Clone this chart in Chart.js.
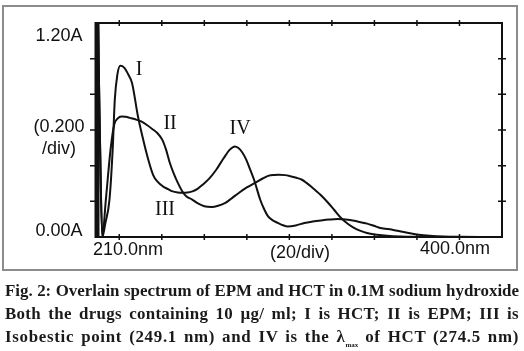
<!DOCTYPE html>
<html>
<head>
<meta charset="utf-8">
<script src="https://cdn.jsdelivr.net/npm/chart.js@4/dist/chart.umd.min.js"></script>
<style>
  html,body{margin:0;padding:0;background:#fff;}
  #wrap{position:relative;width:524px;height:351px;overflow:hidden;}
  #box{position:absolute;left:0;top:0;width:524px;height:351px;}
  #cap{position:absolute;left:5px;top:279px;width:514px;font-family:"Liberation Serif",serif;font-weight:bold;font-size:16px;color:#1a1a1a;line-height:23px;}
  #cap div{text-align:justify;text-align-last:justify;white-space:nowrap;}
  #cap .l2{letter-spacing:0.3px;}
  #cap .l3{letter-spacing:0.7px;}
  #cap sub{font-size:7px;vertical-align:-5px;letter-spacing:0;}
</style>
</head>
<body>
<div id="wrap">
  <div id="box"><canvas id="c"></canvas></div>
  <div id="cap">
    <div id="cap1">Fig. 2: Overlain spectrum of EPM and HCT in 0.1M sodium hydroxide</div>
    <div class="l2">Both the drugs containing 10 µg/ ml; I is HCT; II is EPM; III is</div>
    <div class="l3">Isobestic point (249.1 nm) and IV is the λ<sub>max</sub> of HCT (274.5 nm)</div>
  </div>
</div>
<script>
// ---- data ----
const wavelengthsHCT = [210, 211, 212, 213.5, 215.4, 216.9, 217.9, 219.1, 220.5, 222.3, 224.3, 226, 228.8, 230.9, 233, 235.9, 238, 240.5, 243, 245.1, 247.5, 249.7, 252, 254.4, 256.8, 259.2, 262.5, 265.6, 269, 272, 274.4, 275.9, 277.8, 279.7, 281.5, 283.4, 286.3, 288, 290, 292, 294.6, 297, 299.2, 303, 307.1, 311, 314.9, 318.8, 322.7, 326.6, 330.5, 333.5, 336.6, 339.7, 342.8, 348.4, 352, 356.1, 360.8, 366, 372, 380, 390, 400];
const absorbanceHCT  = [1.2, 0.5, 0.0, 0.08, 0.21, 0.49, 0.77, 0.91, 0.96, 0.95, 0.91, 0.864, 0.676, 0.564, 0.462, 0.349, 0.31, 0.284, 0.268, 0.256, 0.25, 0.248, 0.249, 0.256, 0.27, 0.293, 0.33, 0.377, 0.44, 0.49, 0.508, 0.5, 0.475, 0.434, 0.38, 0.321, 0.209, 0.16, 0.116, 0.095, 0.079, 0.066, 0.059, 0.065, 0.079, 0.087, 0.093, 0.098, 0.101, 0.098, 0.091, 0.083, 0.075, 0.063, 0.05, 0.041, 0.032, 0.022, 0.013, 0.007, 0.003, 0.001, 0, 0];
const wavelengthsEPM = [210, 211, 212, 213.7, 215.9, 217.6, 219.3, 221, 223, 225, 227.5, 230.3, 233, 235.5, 237.9, 240.2, 242, 243.8, 245.5, 247.5, 249.7, 251.5, 254.3, 257, 260, 263.5, 266.5, 269.9, 273, 276.2, 280, 284.2, 287.5, 290.4, 292.8, 295.1, 298, 300.7, 303.3, 305.9, 308.2, 310.5, 314.5, 318.2, 321.2, 324.2, 327.3, 330.4, 333.5, 336.5, 341.2, 346, 352, 360, 380, 400];
const absorbanceEPM  = [1.2, 0.5, 0.0, 0.21, 0.49, 0.63, 0.665, 0.676, 0.674, 0.668, 0.66, 0.648, 0.628, 0.606, 0.583, 0.546, 0.49, 0.415, 0.36, 0.305, 0.255, 0.228, 0.21, 0.188, 0.172, 0.168, 0.175, 0.191, 0.218, 0.247, 0.278, 0.306, 0.328, 0.344, 0.348, 0.349, 0.347, 0.34, 0.332, 0.321, 0.302, 0.28, 0.238, 0.192, 0.15, 0.108, 0.076, 0.051, 0.034, 0.022, 0.013, 0.007, 0.003, 0.001, 0, 0];
const xTicks = [220, 240, 260, 280, 300, 320, 340, 360, 380];
const yTicks = [0.2, 0.4, 0.6, 0.8, 1.0];
const xMin = 210, xMax = 400, yMin = 0, yMax = 1.2;
const yAxisTexts = ["1.20A", "(0.200", "/div)", "0.00A"];
const xAxisTexts = ["210.0nm", "(20/div)", "400.0nm"];
const curveLabels = ["I", "II", "III", "IV"];
const curveLabelAt = [[229.3, 0.937], [243.9, 0.634], [241.5, 0.151], [276.8, 0.606]];

// fit caption font so the first line fills the width naturally
(function fitCaption(){
  const c = document.createElement('canvas').getContext('2d');
  c.font = 'bold 100px "Liberation Serif", serif';
  const w = c.measureText(document.getElementById('cap1').textContent).width;
  const size = Math.min(18, 100 * 512 / w);
  document.getElementById('cap').style.fontSize = size.toFixed(2) + 'px';
})();

const toPts = (xs, ys) => xs.map((x, i) => ({x, y: ys[i]}));

const decor = {
  id: 'decor',
  afterDatasetsDraw(chart) {
    const ctx = chart.ctx, xs = chart.scales.x, ys = chart.scales.y;
    const L = xs.getPixelForValue(xMin), R = xs.getPixelForValue(xMax);
    const T = ys.getPixelForValue(yMax), B = ys.getPixelForValue(yMin);
    ctx.save();
    // outer grey frame
    ctx.strokeStyle = '#8c8c8c'; ctx.lineWidth = 2;
    ctx.strokeRect(3, 6, 514, 264);
    // plot frame
    ctx.strokeStyle = '#111'; ctx.lineWidth = 2;
    ctx.beginPath();
    ctx.moveTo(L, T); ctx.lineTo(R, T); ctx.lineTo(R, B); ctx.lineTo(L, B);
    ctx.stroke();
    ctx.lineWidth = 5;
    ctx.beginPath(); ctx.moveTo(L - 1, T - 1); ctx.lineTo(L - 1, B + 1); ctx.stroke();
    // ticks
    ctx.lineWidth = 1.5;
    ctx.beginPath();
    xTicks.forEach(v => {
      const p = xs.getPixelForValue(v);
      ctx.moveTo(p, T - 3); ctx.lineTo(p, T + 3);
      ctx.moveTo(p, B - 3); ctx.lineTo(p, B + 3);
    });
    yTicks.forEach(v => {
      const p = ys.getPixelForValue(v);
      ctx.moveTo(L - 8, p); ctx.lineTo(L - 3, p);
      ctx.moveTo(R - 4, p); ctx.lineTo(R + 4, p);
    });
    ctx.stroke();
    // axis texts
    ctx.fillStyle = '#111';
    ctx.font = '18px "Liberation Sans", Arial, sans-serif';
    ctx.textAlign = 'center'; ctx.textBaseline = 'middle';
    const yl = [ys.getPixelForValue(yMax) + 13, ys.getPixelForValue(0.6) - 3, ys.getPixelForValue(0.6) + 19, ys.getPixelForValue(yMin) - 6];
    yAxisTexts.forEach((t, i) => ctx.fillText(t, L - 39, yl[i]));
    const xl = [[xs.getPixelForValue(xMin) + 30, B + 13], [xs.getPixelForValue(305), B + 16], [xs.getPixelForValue(xMax) - 47, B + 12]];
    xAxisTexts.forEach((t, i) => ctx.fillText(t, xl[i][0], xl[i][1]));
    // curve labels
    ctx.font = '20px "Liberation Serif", "Times New Roman", serif';
    curveLabels.forEach((t, i) => ctx.fillText(t, xs.getPixelForValue(curveLabelAt[i][0]), ys.getPixelForValue(curveLabelAt[i][1])));
    ctx.restore();
  }
};

new Chart(document.getElementById('c'), {
  type: 'line',
  data: {
    datasets: [
      {label: 'HCT', data: toPts(wavelengthsHCT, absorbanceHCT), borderColor: '#111', borderWidth: 2, pointRadius: 0, cubicInterpolationMode: 'monotone'},
      {label: 'EPM', data: toPts(wavelengthsEPM, absorbanceEPM), borderColor: '#111', borderWidth: 2, pointRadius: 0, cubicInterpolationMode: 'monotone'}
    ]
  },
  options: {
    responsive: true, maintainAspectRatio: false, animation: false, devicePixelRatio: 1,
    layout: {padding: {left: 98, right: 22, top: 23, bottom: 114}},
    plugins: {legend: {display: false}, tooltip: {enabled: false}},
    scales: {
      x: {type: 'linear', min: xMin, max: xMax, display: false},
      y: {type: 'linear', min: yMin, max: yMax, display: false}
    }
  },
  plugins: [decor]
});
</script>
</body>
</html>
